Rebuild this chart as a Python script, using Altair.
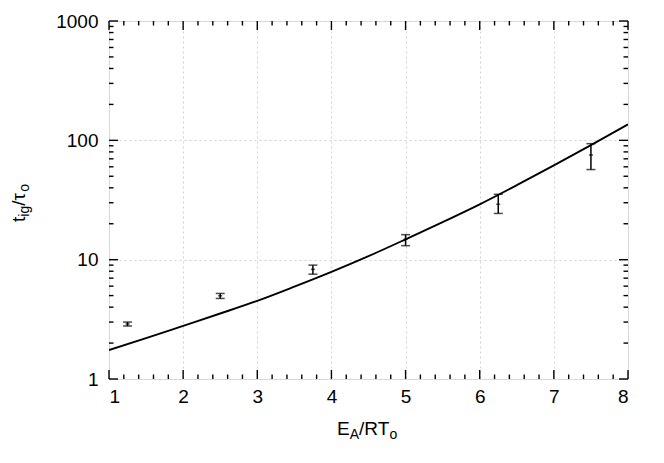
import altair as alt
import pandas as pd

# ---------------- data ----------------
curve_x = [1.0, 1.5, 2.0, 2.5, 3.0, 3.5, 4.0, 4.5, 5.0, 5.5, 6.0, 6.5, 7.0, 7.5, 8.0]
curve_y = [1.75, 2.20, 2.79, 3.54, 4.52, 5.94, 7.9, 10.7, 14.8, 20.65, 29.1, 42.1, 61.7, 91.2, 136.0]

pt_x = [1.25, 2.5, 3.75, 5.0, 6.25, 7.5]
pt_y = [2.89, 4.98, 8.3, 14.8, 29.1, 75.3]
pt_lo = [2.78, 4.73, 7.56, 13.1, 24.4, 56.9]
pt_hi = [3.0, 5.21, 9.0, 16.2, 35.3, 93.8]

x_major = [1, 2, 3, 4, 5, 6, 7, 8]
x_minor = [1.2, 1.4, 1.6, 1.8, 2.2, 2.4, 2.6, 2.8, 3.2, 3.4, 3.6, 3.8,
           4.2, 4.4, 4.6, 4.8, 5.2, 5.4, 5.6, 5.8, 6.2, 6.4, 6.6, 6.8,
           7.2, 7.4, 7.6, 7.8]
y_major = [1, 10, 100, 1000]
y_minor = [2, 3, 4, 5, 6, 7, 8, 9, 20, 30, 40, 50, 60, 70, 80, 90,
           200, 300, 400, 500, 600, 700, 800, 900]

x_title_parts = ["E", "A", "/RT", "o"]
y_title_parts = ["t", "ig", "/", "τ", "o"]

# ---------------- layout ----------------
W, H = 519, 358
FONT = "Liberation Sans"
MAIN, SUB = 19, 14
MAJ, MIN = 9, 4.5

xs = alt.Scale(domain=[1, 8], nice=False, zero=False)
ys = alt.Scale(type="log", domain=[1, 1000], nice=False)

curve = pd.DataFrame({"x": curve_x, "y": curve_y})
pts = pd.DataFrame({"x": pt_x, "y": pt_y, "lo": pt_lo, "hi": pt_hi})
xmaj = pd.DataFrame({"x": x_major})
xmin = pd.DataFrame({"x": x_minor})
ymaj = pd.DataFrame({"y": y_major})
ymin = pd.DataFrame({"y": y_minor})

x_axis = alt.Axis(values=x_major, grid=True, gridDash=[2, 3], gridColor="#d0d0d0",
                  gridWidth=1, tickSize=0, domain=False, labelFontSize=MAIN,
                  labelFont=FONT, labelColor="black", labelPadding=8, title=None,
                  format="d")
y_axis = alt.Axis(values=y_major, grid=True, gridDash=[2, 3], gridColor="#d0d0d0",
                  gridWidth=1, tickSize=0, domain=False, labelFontSize=MAIN,
                  labelFont=FONT, labelColor="black", labelPadding=11, title=None,
                  format="d")

line = alt.Chart(curve).mark_line(color="black", strokeWidth=1.9,
                                  interpolate="monotone", clip=True).encode(
    x=alt.X("x:Q", scale=xs, axis=x_axis),
    y=alt.Y("y:Q", scale=ys, axis=y_axis),
)

bars = alt.Chart(pts).mark_rule(color="black", strokeWidth=1.5).encode(
    x=alt.X("x:Q", scale=xs), y=alt.Y("lo:Q", scale=ys), y2="hi:Q")
cap_lo = alt.Chart(pts).mark_tick(color="black", orient="horizontal", size=9,
                                  thickness=1.5).encode(
    x=alt.X("x:Q", scale=xs), y=alt.Y("lo:Q", scale=ys))
cap_hi = alt.Chart(pts).mark_tick(color="black", orient="horizontal", size=9,
                                  thickness=1.5).encode(
    x=alt.X("x:Q", scale=xs), y=alt.Y("hi:Q", scale=ys))
centre = alt.Chart(pts).mark_tick(color="black", orient="horizontal", size=4,
                                  thickness=1.5).encode(
    x=alt.X("x:Q", scale=xs), y=alt.Y("y:Q", scale=ys))


def xticks(df, length):
    b = alt.Chart(df).mark_rule(color="black", strokeWidth=1.4).encode(
        x=alt.X("x:Q", scale=xs), y=alt.value(H), y2=alt.value(H - length))
    t = alt.Chart(df).mark_rule(color="black", strokeWidth=1.4).encode(
        x=alt.X("x:Q", scale=xs), y=alt.value(0), y2=alt.value(length))
    return [b, t]


def yticks(df, length):
    l = alt.Chart(df).mark_rule(color="black", strokeWidth=1.4).encode(
        y=alt.Y("y:Q", scale=ys), x=alt.value(0), x2=alt.value(length))
    r = alt.Chart(df).mark_rule(color="black", strokeWidth=1.4).encode(
        y=alt.Y("y:Q", scale=ys), x=alt.value(W), x2=alt.value(W - length))
    return [l, r]


tick_layers = xticks(xmaj, MAJ) + xticks(xmin, MIN) + yticks(ymaj, MAJ) + yticks(ymin, MIN)

one = pd.DataFrame({"k": [0]})
em = {"E": 0.667, "A": 0.667, "/RT": 0.278 + 0.722 + 0.611, "o": 0.556,
      "t": 0.278, "ig": 0.222 + 0.556, "/": 0.278, "τ": 0.46}

# x-axis title, built piece by piece (subscripts)
title_layers = []
cx = 228.0
base_y = 414.0
for i, part in enumerate(x_title_parts):
    sub = i % 2 == 1
    fs = SUB if sub else MAIN
    title_layers.append(
        alt.Chart(one).mark_text(text=part, font=FONT, fontSize=fs, color="black",
                                 align="left", baseline="alphabetic").encode(
            x=alt.value(cx), y=alt.value(base_y + (4 if sub else 0))))
    cx += em[part] * fs

# y-axis title, rotated
cy = 201.0
base_x = -84.0
for i, part in enumerate(y_title_parts):
    sub = part in ("ig", "o")
    fs = SUB if sub else MAIN
    title_layers.append(
        alt.Chart(one).mark_text(text=part, font=FONT, fontSize=fs, color="black",
                                 align="left", baseline="alphabetic", angle=270).encode(
            x=alt.value(base_x + (4 if sub else 0)), y=alt.value(cy)))
    cy -= em[part] * fs

chart = alt.layer(line, *tick_layers, bars, cap_lo, cap_hi, centre, *title_layers).properties(
    width=W, height=H,
    autosize=alt.AutoSizeParams(type="none"),
    padding={"left": 101, "top": 13, "right": 20, "bottom": 70},
).configure_view(stroke="black", strokeWidth=2).configure(background="white")

chart.save("out.html", embed_options={"renderer": "svg", "actions": False})
